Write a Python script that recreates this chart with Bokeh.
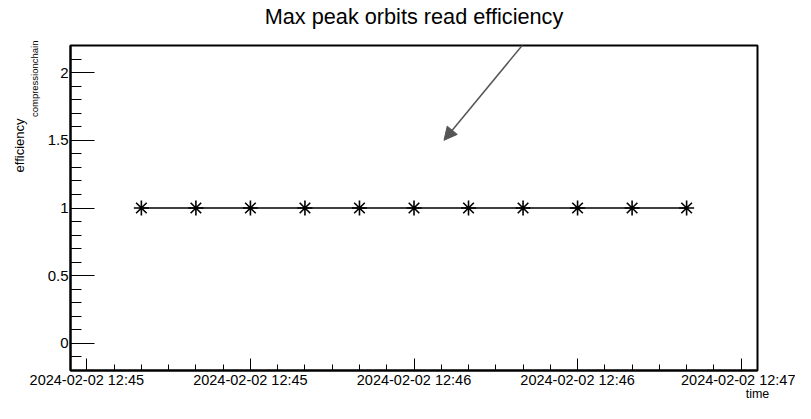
from datetime import datetime

from bokeh.plotting import figure
from bokeh.models import (Range1d, FixedTicker, DatetimeTickFormatter, CustomJSTickFormatter,
                          Title, Arrow, NormalHead, ColumnDataSource)
from bokeh.embed import file_html
from bokeh.resources import INLINE

# ---------------- data ----------------
times = [
    "2024-02-02 12:45:10", "2024-02-02 12:45:20", "2024-02-02 12:45:30",
    "2024-02-02 12:45:40", "2024-02-02 12:45:50", "2024-02-02 12:46:00",
    "2024-02-02 12:46:10", "2024-02-02 12:46:20", "2024-02-02 12:46:30",
    "2024-02-02 12:46:40", "2024-02-02 12:46:50",
]
efficiency = [1, 1, 1, 1, 1, 1, 1, 1, 1, 1, 1]

x_major_ticks = ["2024-02-02 12:45:00", "2024-02-02 12:45:30", "2024-02-02 12:46:00",
                 "2024-02-02 12:46:30", "2024-02-02 12:47:00"]
x_range_bounds = ["2024-02-02 12:44:57", "2024-02-02 12:47:03"]
y_major_ticks = [0, 0.5, 1, 1.5, 2]
y_minor_ticks = [-0.1, 0.1, 0.2, 0.3, 0.4, 0.6, 0.7, 0.8, 0.9, 1.1, 1.2, 1.3, 1.4,
                 1.6, 1.7, 1.8, 1.9, 2.1]
y_range_bounds = [-0.2, 2.2]

title_text = "Max peak orbits read efficiency"
y_label_main = "efficiency"
y_label_sub = "compressionchain"
x_label = "time"

arrow_start = ("2024-02-02 12:46:27", 2.55)
arrow_end = ("2024-02-02 12:46:05.5", 1.5)

# ---------------- helpers ----------------
EPOCH = datetime(1970, 1, 1)


def to_ms(s):
    return (datetime.fromisoformat(s) - EPOCH).total_seconds() * 1000.0


x_ms = [to_ms(t) for t in times]
major_ms = [to_ms(t) for t in x_major_ticks]
minor_ms = []
for i in range(len(major_ms) - 1):
    for k in range(1, 6):
        minor_ms.append(major_ms[i] + k * 5000.0)

source = ColumnDataSource(data=dict(x=x_ms, y=efficiency))

W, H = 795, 403
FONT = "Liberation Sans"

p = figure(width=W, height=H, title=None,
           x_range=Range1d(to_ms(x_range_bounds[0]), to_ms(x_range_bounds[1])),
           y_range=Range1d(y_range_bounds[0], y_range_bounds[1]),
           x_axis_type="datetime",
           output_backend="svg", toolbar_location=None,
           min_border_left=70, min_border_right=38,
           min_border_top=45, min_border_bottom=20,
           background_fill_color="white", border_fill_color="white",
           outline_line_color="black", outline_line_width=2)

p.xgrid.visible = False
p.ygrid.visible = False

# x axis
xa = p.xaxis[0]
xa.ticker = FixedTicker(ticks=major_ms, minor_ticks=minor_ms)
fmt = "%Y-%m-%d %H:%M"
xa.formatter = DatetimeTickFormatter(microseconds=fmt, milliseconds=fmt, seconds=fmt,
                                     minsec=fmt, minutes=fmt, hourmin=fmt, hours=fmt,
                                     days=fmt, months=fmt, years=fmt)
xa.major_tick_in = 12
xa.major_tick_out = 0
xa.minor_tick_in = 6
xa.minor_tick_out = 0
xa.major_label_standoff = 1
xa.major_label_text_font = FONT
xa.major_label_text_font_size = "14.5px"
xa.major_label_text_color = "black"
xa.axis_line_width = 2
xa.axis_line_color = "black"
xa.major_tick_line_color = "black"
xa.minor_tick_line_color = "black"

# y axis
ya = p.yaxis[0]
ya.ticker = FixedTicker(ticks=y_major_ticks, minor_ticks=y_minor_ticks)
ya.formatter = CustomJSTickFormatter(code="return String(tick);")
ya.major_tick_in = 24
ya.major_tick_out = 0
ya.minor_tick_in = 11
ya.minor_tick_out = 0
ya.major_label_standoff = 2
ya.major_label_text_font = FONT
ya.major_label_text_font_size = "15px"
ya.major_label_text_color = "black"
ya.axis_line_width = 2
ya.axis_line_color = "black"
ya.major_tick_line_color = "black"
ya.minor_tick_line_color = "black"

# data
p.line("x", "y", source=source, line_color="black", line_width=1.4)
p.scatter("x", "y", source=source, marker="asterisk", size=15,
          line_color="black", line_width=1.6)

# title (spacer first so the title sits at the top of the canvas)
p.add_layout(Title(text=" ", text_font_size="1px", standoff=12), "above")
p.add_layout(Title(text=title_text, align="center", vertical_align="top", standoff=0,
                   text_font=FONT, text_font_size="21.7px", text_font_style="normal",
                   text_color="black"), "above")

# arrow (placed in the top panel so it is not clipped at the frame edge)
p.add_layout(Arrow(x_start=to_ms(arrow_start[0]), y_start=arrow_start[1],
                   x_end=to_ms(arrow_end[0]), y_end=arrow_end[1],
                   line_color="#555555", line_width=1.5,
                   end=NormalHead(size=13, fill_color="#555555", line_color="#555555",
                                  line_width=1)), "above")

# y label with subscript (subscript is closer to the axis)
p.add_layout(Title(text=y_label_sub, align="right", offset=-5, vertical_align="top",
                   standoff=5, text_font=FONT, text_font_size="9.5px",
                   text_font_style="normal", text_color="black"), "left")
p.add_layout(Title(text=y_label_main, align="right", offset=73, vertical_align="bottom",
                   standoff=0, text_font=FONT, text_font_size="13px",
                   text_font_style="normal", text_color="black"), "left")

# x label, right-aligned under the end of the axis
if "axis_label_align" in xa.properties():
    xa.axis_label = x_label
    xa.axis_label_align = "end"
    xa.axis_label_standoff = -4
    xa.axis_label_text_font = FONT
    xa.axis_label_text_font_size = "12.5px"
    xa.axis_label_text_font_style = "normal"
    xa.axis_label_text_color = "black"
else:
    p.add_layout(Title(text=x_label, align="right", offset=0, vertical_align="top",
                       standoff=-4, text_font=FONT, text_font_size="12.5px",
                       text_font_style="normal", text_color="black"), "below")

open("out.html", "w").write(file_html(p, INLINE))
